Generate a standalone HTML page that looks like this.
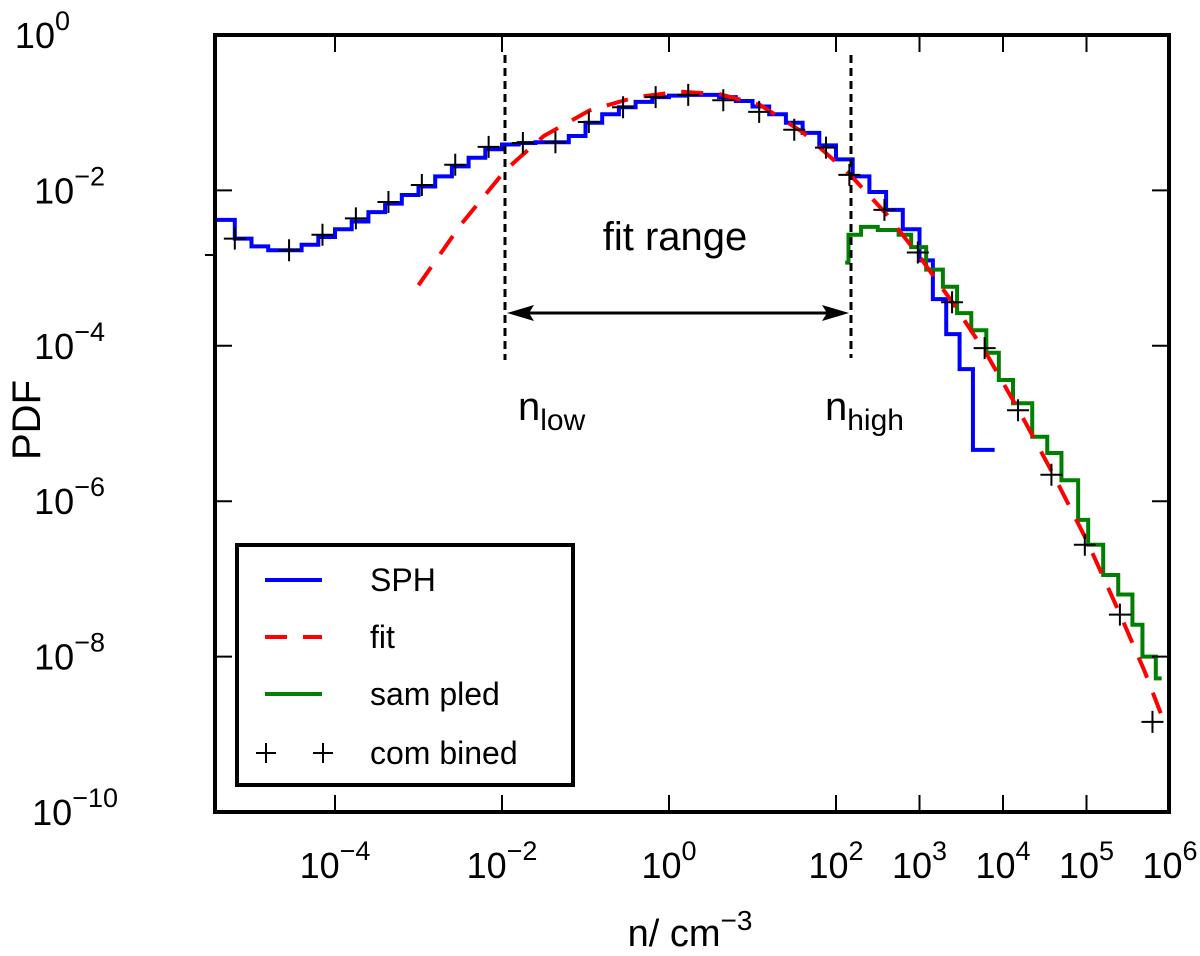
<!DOCTYPE html>
<html><head><meta charset="utf-8"><style>
body{margin:0;background:#fff}
svg{display:block;font-family:"Liberation Sans",sans-serif}
</style></head><body>
<svg id="chart" width="1200" height="956">
<g id="marks"></g>
<g id="axes"></g>
</svg>
<script>
// data (log10 values)
const spnX=[-5.44,-5.2,-5.0,-4.8,-4.6,-4.4,-4.2,-4.0,-3.8,-3.6,-3.4,-3.2,-3.0,-2.8,-2.6,-2.4,-2.2,-2.0,-1.8,-1.6,-1.4,-1.2,-1.0,-0.8,-0.6,-0.4,-0.2,0,0.2,0.4,0.6,0.8,1.0,1.2,1.4,1.6,1.8,2.0,2.2,2.4,2.6,2.8,3.0,3.16,3.32,3.48,3.64,3.9];
const spnY=[-2.38,-2.62,-2.72,-2.77,-2.77,-2.7,-2.6,-2.5,-2.4,-2.28,-2.17,-2.06,-1.95,-1.82,-1.69,-1.58,-1.47,-1.41,-1.39,-1.38,-1.38,-1.3,-1.13,-1.02,-0.93,-0.86,-0.80,-0.78,-0.77,-0.77,-0.80,-0.85,-0.92,-1.02,-1.13,-1.26,-1.42,-1.6,-1.82,-2.02,-2.25,-2.5,-2.9,-3.4,-3.85,-4.3,-5.34,-5.34];
const fitX=[-3.0,-2.5,-1.96,-1.5,-0.95,-0.4,0.13,0.6,1.09,1.6,2.17,2.6,3.0,3.4,3.8,4.2,4.6,5.0,5.4,5.7,5.95];
const fitY=[-3.22,-2.45,-1.74,-1.3,-0.97,-0.8,-0.73,-0.76,-0.9,-1.25,-1.8,-2.3,-2.85,-3.45,-4.1,-4.85,-5.65,-6.5,-7.45,-8.2,-8.9];
const samX=[2.11,2.15,2.3,2.5,2.75,2.9,3.08,3.28,3.45,3.62,3.8,3.95,4.12,4.35,4.53,4.7,4.9,5.02,5.2,5.38,5.55,5.67,5.83,5.9];
const samY=[-2.93,-2.57,-2.47,-2.51,-2.57,-2.73,-3.02,-3.24,-3.58,-3.80,-4.09,-4.44,-4.74,-5.17,-5.38,-5.73,-6.24,-6.56,-6.95,-7.2,-7.59,-8.0,-8.28,-8.28];
const comX=[-5.2,-4.55,-4.15,-3.75,-3.36,-2.96,-2.56,-2.16,-1.75,-1.36,-0.96,-0.55,-0.16,0.23,0.65,1.08,1.5,1.88,2.16,2.58,2.98,3.39,3.78,4.18,4.58,4.98,5.4,5.79];
const comY=[-2.62,-2.77,-2.57,-2.36,-2.15,-1.93,-1.67,-1.44,-1.39,-1.38,-1.12,-0.93,-0.80,-0.77,-0.84,-0.99,-1.22,-1.45,-1.8,-2.25,-2.8,-3.44,-4.03,-4.83,-5.66,-6.56,-7.46,-8.84];
const xTicks=[-4,-2,0,2,3,4,5,6];
const yTicks=[0,-2,-4,-6,-8,-10];

const L=215,R=1169,T=35,B=812;
const sx=v=>669+v*83.5;
const sy=v=>T-(v)*77.7;
const NS='http://www.w3.org/2000/svg';
const svg=document.getElementById('chart'),marks=document.getElementById('marks'),axes=document.getElementById('axes');
function mk(tag,attrs,parent){const e=document.createElementNS(NS,tag);for(const k in attrs)e.setAttribute(k,attrs[k]);parent.appendChild(e);return e;}
function stepPath(xs,ys){let d='';for(let i=0;i<xs.length;i++){const x=sx(xs[i]),y=sy(ys[i]);if(i===0)d='M'+x+','+y;else d+=' H'+x+' V'+y;}return d;}
function linePath(xs,ys){return xs.map((v,i)=>(i?'L':'M')+sx(v)+','+sy(ys[i])).join(' ');}

const clip=mk('clipPath',{id:'cp'},svg);mk('rect',{x:L,y:T,width:R-L,height:B-T},clip);
marks.setAttribute('clip-path','url(#cp)');

const sph=mk('path',{d:stepPath(spnX,spnY),fill:'none',stroke:'#0000ff','stroke-width':4},marks);


const sam=mk('path',{d:stepPath(samX,samY),fill:'none',stroke:'#008000','stroke-width':4},marks);


const fit=mk('path',{d:linePath(fitX,fitY),fill:'none',stroke:'#ff0000','stroke-width':4,'stroke-dasharray':'22,16'},marks);


comX.forEach((v,i)=>{const x=sx(v),y=sy(comY[i]);
 const p=mk('path',{d:`M${x-11},${y}H${x+11}M${x},${y-11}V${y+11}`,stroke:'#000','stroke-width':2},marks);
 
 });

// annotations
const nl=mk('line',{x1:505,y1:55,x2:505,y2:360,stroke:'#000','stroke-width':3,'stroke-dasharray':'8,5'},axes);


const nh=mk('line',{x1:851,y1:55,x2:851,y2:358,stroke:'#000','stroke-width':3,'stroke-dasharray':'8,5'},axes);


const ar=mk('g',{},axes);


mk('line',{x1:520,y1:313,x2:836,y2:313,stroke:'#000','stroke-width':3},ar);
mk('path',{d:'M507,313 L534,305 L529,313 L534,321Z',fill:'#000'},ar);
mk('path',{d:'M849,313 L822,305 L827,313 L822,321Z',fill:'#000'},ar);

// frame & ticks
const fr=mk('rect',{x:L,y:T,width:R-L,height:B-T,fill:'none',stroke:'#000','stroke-width':4},axes);


xTicks.forEach(v=>{const x=sx(v);
 mk('line',{x1:x,y1:B,x2:x,y2:B-17,stroke:'#000','stroke-width':2},axes);
 mk('line',{x1:x,y1:T,x2:x,y2:T+17,stroke:'#000','stroke-width':2},axes);
 const t=mk('text',{x:x,y:878,'font-size':36,'text-anchor':'middle'},axes);
 
 
 t.innerHTML=`10<tspan dy="-18" font-size="27">${v<0?'\u2212'+(-v):v}</tspan>`;});
yTicks.forEach(v=>{const y=sy(v);
 mk('line',{x1:L,y1:y,x2:L+17,y2:y,stroke:'#000','stroke-width':2},axes);
 mk('line',{x1:R,y1:y,x2:R-17,y2:y,stroke:'#000','stroke-width':2},axes);
 const t=mk('text',{x:158,y:y+13,'font-size':36,'text-anchor':'end'},axes);
 
 
 t.innerHTML=`10<tspan dy="-18" font-size="27">${v<0?'\u2212'+(-v):v}</tspan>`;
 t.setAttribute('x',v===0?70:(v===-10?118:105));});
mk('line',{x1:L-10,y1:255,x2:L,y2:255,stroke:'#000','stroke-width':2},axes);
</script>
<svg style="position:absolute;left:0;top:0" width="1200" height="956">
<text x="675" y="250" font-size="40" text-anchor="middle" font-family="Liberation Sans,sans-serif">fit range</text>
<text x="518" y="420" font-size="40" font-family="Liberation Sans,sans-serif">n<tspan dy="10" font-size="30">low</tspan></text>
<text x="825" y="420" font-size="40" font-family="Liberation Sans,sans-serif">n<tspan dy="10" font-size="30">high</tspan></text>
<text x="40" y="420" font-size="40" text-anchor="middle" transform="rotate(-90 40 420)" font-family="Liberation Sans,sans-serif">PDF</text>
<text x="690" y="946" font-size="38" text-anchor="middle" font-family="Liberation Sans,sans-serif">n/ cm<tspan dy="-16" font-size="28">−3</tspan></text>
<g font-family="Liberation Sans,sans-serif" font-size="32">
<rect x="237" y="545" width="336" height="240" fill="#fff" stroke="#000" stroke-width="4"/>
<g><line x1="265" y1="580" x2="322" y2="580" stroke="#0000ff" stroke-width="4"/><text x="370" y="591">SPH</text></g>
<g><line x1="265" y1="637" x2="287" y2="637" stroke="#ff0000" stroke-width="4"/><line x1="303" y1="637" x2="322" y2="637" stroke="#ff0000" stroke-width="4"/><text x="370" y="648">fit</text></g>
<g><line x1="265" y1="694" x2="322" y2="694" stroke="#008000" stroke-width="4"/><text x="370" y="705">sam pled</text></g>
<g><path d="M256,753H276M266,743V763M313,753H333M323,743V763" stroke="#000" stroke-width="2"/><text x="370" y="764">com bined</text></g>
</g>
</svg>
</body></html>
